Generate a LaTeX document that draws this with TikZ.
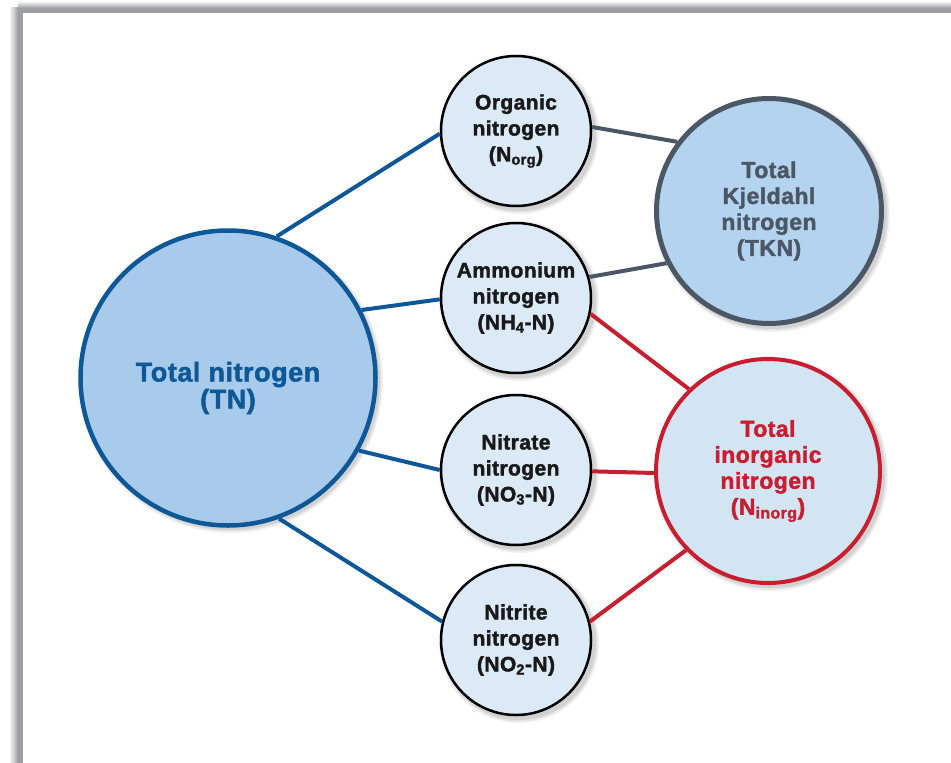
\documentclass[tikz,border=0pt]{standalone}
\usepackage{fontspec}
\setmainfont{Liberation Sans}[LetterSpace=2,BoldFeatures={FakeBold=1.8}]
\definecolor{tnblue}{HTML}{0F5898}
\definecolor{tnfill}{HTML}{A8CBEB}
\definecolor{smallfill}{HTML}{DCE9F6}
\definecolor{tkngrey}{HTML}{4C5766}
\definecolor{tknfill}{HTML}{B3D3EF}
\definecolor{tinred}{HTML}{C71F30}
\definecolor{tinfill}{HTML}{D3E4F3}
\definecolor{framegrey}{HTML}{9C9EA4}
\newcommand{\softshadow}[3]{%
  \foreach \dr/\op in {4/0.05,2.5/0.06,1/0.07}{%
    \fill[black,opacity=\op] (#1+3,#2+3) circle[radius=#3+\dr];}}
\tikzset{
  base/.style={circle,inner sep=0pt,align=center,font=\bfseries},
  smallc/.style={base,draw=black,line width=2.5pt,fill=smallfill,minimum size=150pt,
    text=black!90,font=\bfseries\fontsize{21}{26}\selectfont},
  tnc/.style={base,draw=tnblue,line width=4.5pt,fill=tnfill,minimum size=295pt},
  tntext/.style={align=center,inner sep=0pt,text=tnblue,
    font=\bfseries\fontsize{27}{27}\selectfont},
  tknc/.style={base,draw=tkngrey,line width=5pt,fill=tknfill,minimum size=225pt,text=tkngrey,
    font=\bfseries\fontsize{23}{26}\selectfont},
  tinc/.style={base,draw=tinred,line width=4pt,fill=tinfill,minimum size=224pt,text=tinred,
    font=\bfseries\fontsize{23}{26}\selectfont},
  blueline/.style={draw=tnblue,line width=4pt},
  greyline/.style={draw=tkngrey,line width=4pt},
  redline/.style={draw=tinred,line width=4pt},
}
\begin{document}
\begin{tikzpicture}[x=1pt,y=-1pt]
\useasboundingbox (0,0) rectangle (951,763);
% frame
\fill[white] (0,0) rectangle (951,763);
\shade[left color=white,right color=framegrey] (9,7) rectangle (18,763);
\fill[framegrey] (18,13) rectangle (23,763);
\shade[top color=white,bottom color=framegrey] (18,1) rectangle (951,8);
\fill[framegrey] (18,8) rectangle (951,13);
% shadows
\softshadow{228}{378}{148}
\softshadow{516}{131}{76}
\softshadow{516}{298}{76}
\softshadow{516}{470}{76}
\softshadow{516}{640}{76}
\softshadow{769}{211}{114}
\softshadow{768}{471}{113}
% nodes
\node[tnc] (tn) at (228,378) {};
\node[tntext] (tnlabel) at ([yshift=-10pt]tn.center) {Total nitrogen\\(TN)};
\node[smallc] (org) at (516,131) {Organic\\nitrogen\\(N\textsubscript{org})};
\node[smallc] (amm) at (516,298) {Ammonium\\nitrogen\\(NH\textsubscript{4}-N)};
\node[smallc] (nat) at (516,470) {Nitrate\\nitrogen\\(NO\textsubscript{3}-N)};
\node[smallc] (nit) at (516,640) {Nitrite\\nitrogen\\(NO\textsubscript{2}-N)};
\node[tknc] (tkn) at (769,211) {Total\\Kjeldahl\\nitrogen\\(TKN)};
\node[tinc] (tin) at (768,471) {Total\\inorganic\\nitrogen\\(N\textsubscript{inorg})};
% connectors
\draw[blueline] (tn.71) -- (org.182);
\draw[blueline] (tn.27) -- (amm.181);
\draw[blueline] (tn.-29) -- (nat.180);
\draw[blueline] (tn.-70) -- (nit.166);
\draw[greyline] (org.3) -- (tkn.143);
\draw[greyline] (amm.16) -- (tkn.207);
\draw[redline] (amm.-12) -- (tin.134);
\draw[redline] (nat.-1) -- (tin.181);
\draw[redline] (nit.14) -- (tin.224);
\end{tikzpicture}
\end{document}
